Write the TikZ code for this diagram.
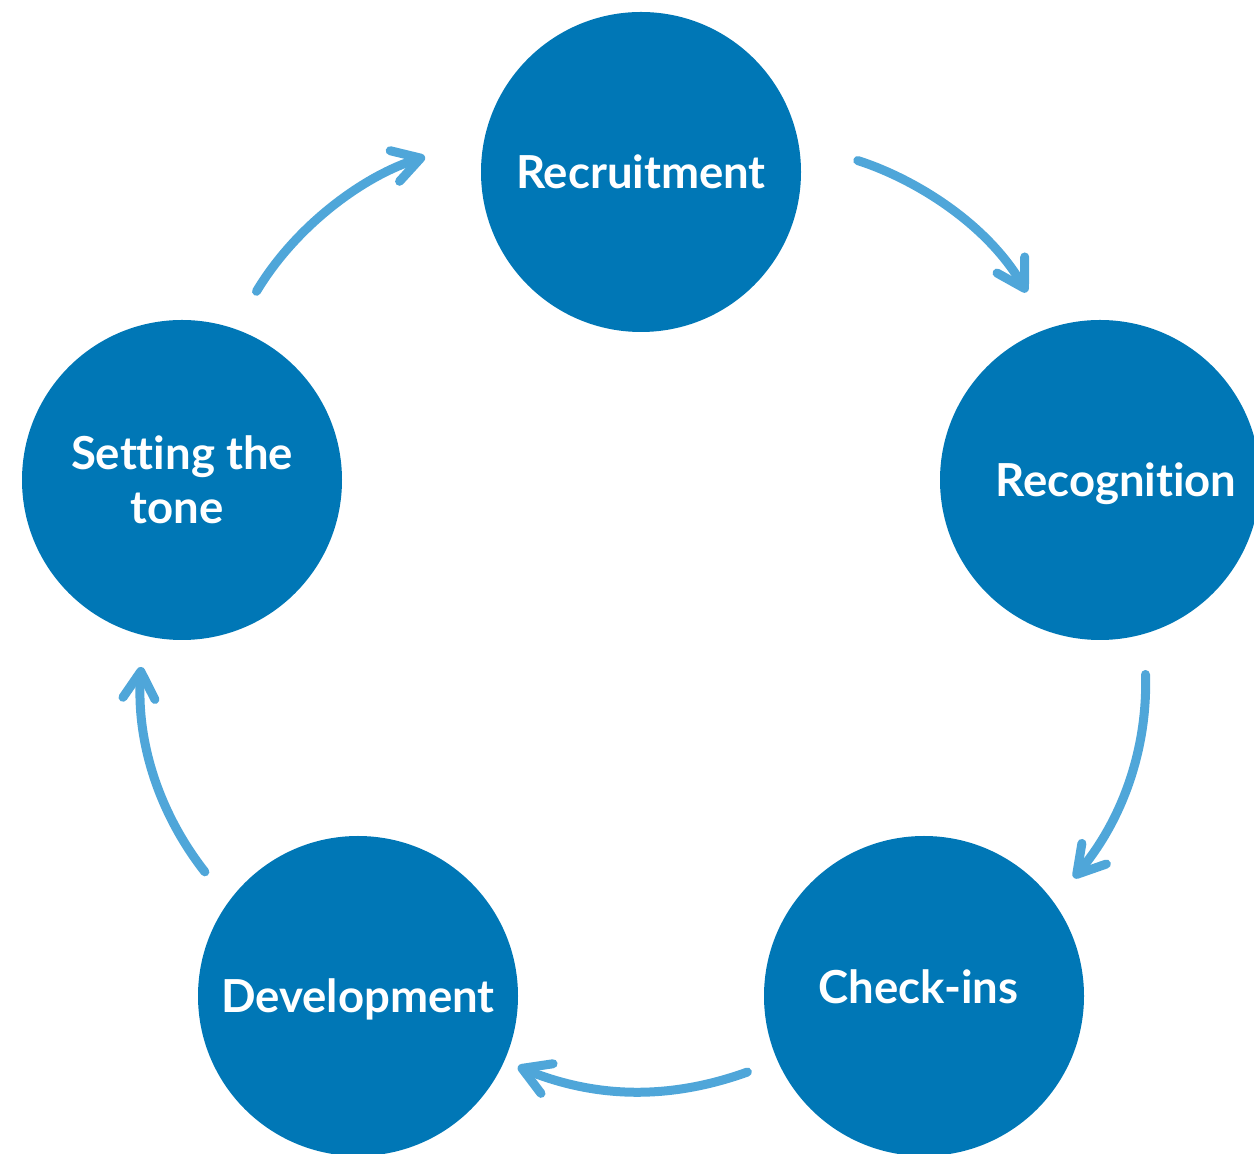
\documentclass[tikz,border=0pt]{standalone}
\usepackage{fontspec}
\setmainfont{Lato}[Ligatures=NoCommon]
\usepackage{tikz}
\usetikzlibrary{arrows.meta}
\definecolor{stageblue}{HTML}{0077B6}
\definecolor{flowblue}{HTML}{4FA6D9}
\tikzset{%
  every stage/.style={
    circle,
    fill=stageblue,
    minimum size=320pt,
    inner sep=0pt,
    text=white,
    align=center,
    font=\fontsize{45.5}{54}\selectfont\bfseries,
    text height=33pt,
    text depth=0pt
  },
  flow/.style={
    draw=flowblue,
    line width=9pt,
    line cap=round,
    ->
  },
}

\begin{document}
\begin{tikzpicture}[> = {Straight Barb[length=27pt, width=32pt, round]}, x=1pt, y=1pt]
\useasboundingbox (0,0) rectangle (1254,1154);
    \node[every stage] (recruit) at (641,982) {Recruitment};
    \node[every stage] (recog) at (1100,674) {\hspace*{32pt}Recognition};
    \node[every stage, text depth=18pt] (checkins) at (924,158) {\hspace*{-11pt}Check-ins};
    \node[every stage] (develop) at (358,158) {Development};
    \node[every stage, text height=87pt] (tone) at (182,674) {Setting the\\\hspace*{-10pt}tone};
    \foreach \src/\sa/\ss/\dst/\da/\ds/\o/\i in {tone/71.6/43.4/recruit/168.4/62/59/197,
                                                recruit/11.9/62.5/recog/109.7/42/-17.8/120.2,
                                                recog/-74.9/40.5/checkins/36.4/31.4/-88.1/49.9,
                                                checkins/204.4/32.2/develop/-24.6/14.6/199.8/-22.2,
                                                develop/144/38.1/tone/256.3/31.6/128.1/266.1}
        \draw[flow, shorten <=\ss pt, shorten >=\ds pt] (\src.\sa) to[out=\o, in=\i] (\dst.\da);
\end{tikzpicture}
\end{document}
